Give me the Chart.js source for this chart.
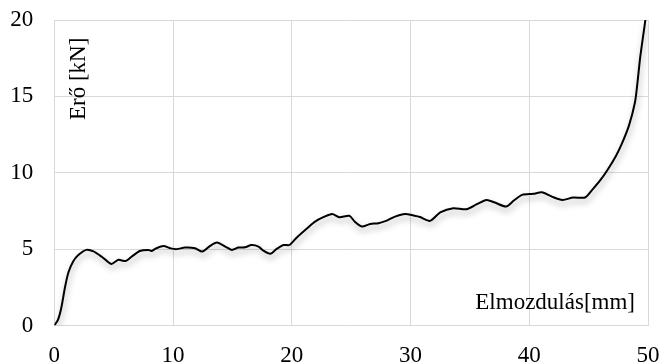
<!DOCTYPE html>
<html>
<head>
<meta charset="utf-8">
<script src="https://cdn.jsdelivr.net/npm/chart.js@4/dist/chart.umd.min.js"></script>
<style>
  html, body { margin: 0; padding: 0; background: #fff; }
  #wrap { width: 659px; height: 364px; position: relative; }
</style>
</head>
<body>
<div id="wrap"><canvas id="c" width="659" height="364"></canvas></div>
<script>
// Displacement [mm]
const displacement = [
  0, 0.3, 0.6, 0.9, 1.2, 1.6, 2.0, 2.7, 3.3, 4.0, 4.8, 5.4, 6.0, 6.5, 7.2, 7.9, 8.2, 8.6, 9.2, 9.8,
  10.3, 11.0, 11.85, 12.47, 13.1, 13.7, 14.4, 14.95, 15.5, 16.07, 16.6, 17.2, 17.6, 18.2, 18.7, 19.3, 19.8,
  20.4, 21.3, 21.96, 22.66, 23.4, 24.0, 24.85, 25.3, 25.9, 26.6, 27.3, 28.0, 28.7, 29.55,
  30.25, 30.8, 31.65, 32.5, 33.6, 34.7, 35.6, 36.4, 37.1, 38.05, 38.7, 39.4,
  40.35, 41.06, 41.9, 42.8, 43.7, 44.7, 45.3, 46.0, 46.6, 47.3, 47.8, 48.4, 48.9, 49.1, 49.35, 49.78
];
// Force [kN]
const force = [
  0, 0.35, 1.2, 2.5, 3.5, 4.2, 4.6, 4.95, 4.85, 4.5, 4.03, 4.3, 4.22, 4.5, 4.88, 4.95, 4.88, 5.06, 5.2, 5.05,
  5.0, 5.1, 5.06, 4.84, 5.2, 5.43, 5.17, 4.95, 5.1, 5.12, 5.27, 5.17, 4.9, 4.69, 5.0, 5.27, 5.27,
  5.75, 6.37, 6.8, 7.09, 7.3, 7.09, 7.18, 6.8, 6.48, 6.65, 6.7, 6.87, 7.13, 7.3,
  7.2, 7.1, 6.85, 7.4, 7.68, 7.61, 7.94, 8.22, 8.05, 7.79, 8.18, 8.55,
  8.62, 8.72, 8.44, 8.22, 8.38, 8.38, 8.88, 9.53, 10.2, 11.1, 11.9, 13.1, 14.6, 15.8, 17.6, 20.0
];
const xTicks = [0, 10, 20, 30, 40, 50];
const yTicks = [0, 5, 10, 15, 20];
const xTitle = "Elmozdulás[mm]";
const yTitle = "Erő [kN]";

const FONT = "'Liberation Serif', 'Times New Roman', serif";

const points = displacement.map((x, i) => ({ x: x, y: force[i] }));

const shadowPlugin = {
  id: 'lineShadow',
  beforeDatasetDraw(chart) {
    const ctx = chart.ctx;
    ctx.save();
    ctx.shadowColor = 'rgba(0,0,0,0.35)';
    ctx.shadowBlur = 6;
    ctx.shadowOffsetX = 1;
    ctx.shadowOffsetY = 4;
  },
  afterDatasetDraw(chart) {
    chart.ctx.restore();
  }
};

const titlesPlugin = {
  id: 'innerTitles',
  afterDraw(chart) {
    const ctx = chart.ctx;
    const a = chart.chartArea;
    ctx.save();
    ctx.fillStyle = '#000';
    ctx.font = "23px " + FONT;
    ctx.textBaseline = 'alphabetic';
    ctx.textAlign = 'right';
    ctx.fillText(xTitle, a.right - 13, a.bottom - 17);
    ctx.translate(a.left + 31, a.top + 100);
    ctx.rotate(-Math.PI / 2);
    ctx.textAlign = 'left';
    ctx.fillText(yTitle, 0, 0);
    ctx.restore();
  }
};

new Chart(document.getElementById('c'), {
  type: 'scatter',
  data: {
    datasets: [{
      data: points,
      showLine: true,
      borderColor: '#000',
      borderWidth: 2,
      pointRadius: 0,
      tension: 0.25,
      fill: false
    }]
  },
  options: {
    responsive: false,
    animation: false,
    devicePixelRatio: 1,
    layout: { padding: { top: 20, right: 11, left: 0, bottom: 0 } },
    plugins: { legend: { display: false }, tooltip: { enabled: false } },
    scales: {
      x: {
        type: 'linear',
        min: 0, max: 50,
        afterBuildTicks(scale) { scale.ticks = xTicks.map(v => ({ value: v })); },
        afterFit(scale) {
          scale.height = 38.5;
          scale.paddingLeft = 0;
          scale.paddingRight = 0;
        },
        grid: { color: '#d9d9d9', lineWidth: 1, drawTicks: false },
        border: { color: '#d9d9d9', width: 1 },
        ticks: { color: '#000', font: { family: FONT, size: 23 }, padding: 17, maxRotation: 0 }
      },
      y: {
        type: 'linear',
        min: 0, max: 20,
        afterBuildTicks(scale) { scale.ticks = yTicks.map(v => ({ value: v })); },
        afterFit(scale) {
          scale.width = 54.3;
          scale.paddingTop = 0;
          scale.paddingBottom = 0;
        },
        grid: { color: '#d9d9d9', lineWidth: 1, drawTicks: false },
        border: { color: '#d9d9d9', width: 1 },
        ticks: { color: '#000', font: { family: FONT, size: 23 }, padding: 21 }
      }
    }
  },
  plugins: [shadowPlugin, titlesPlugin]
});
</script>
</body>
</html>
